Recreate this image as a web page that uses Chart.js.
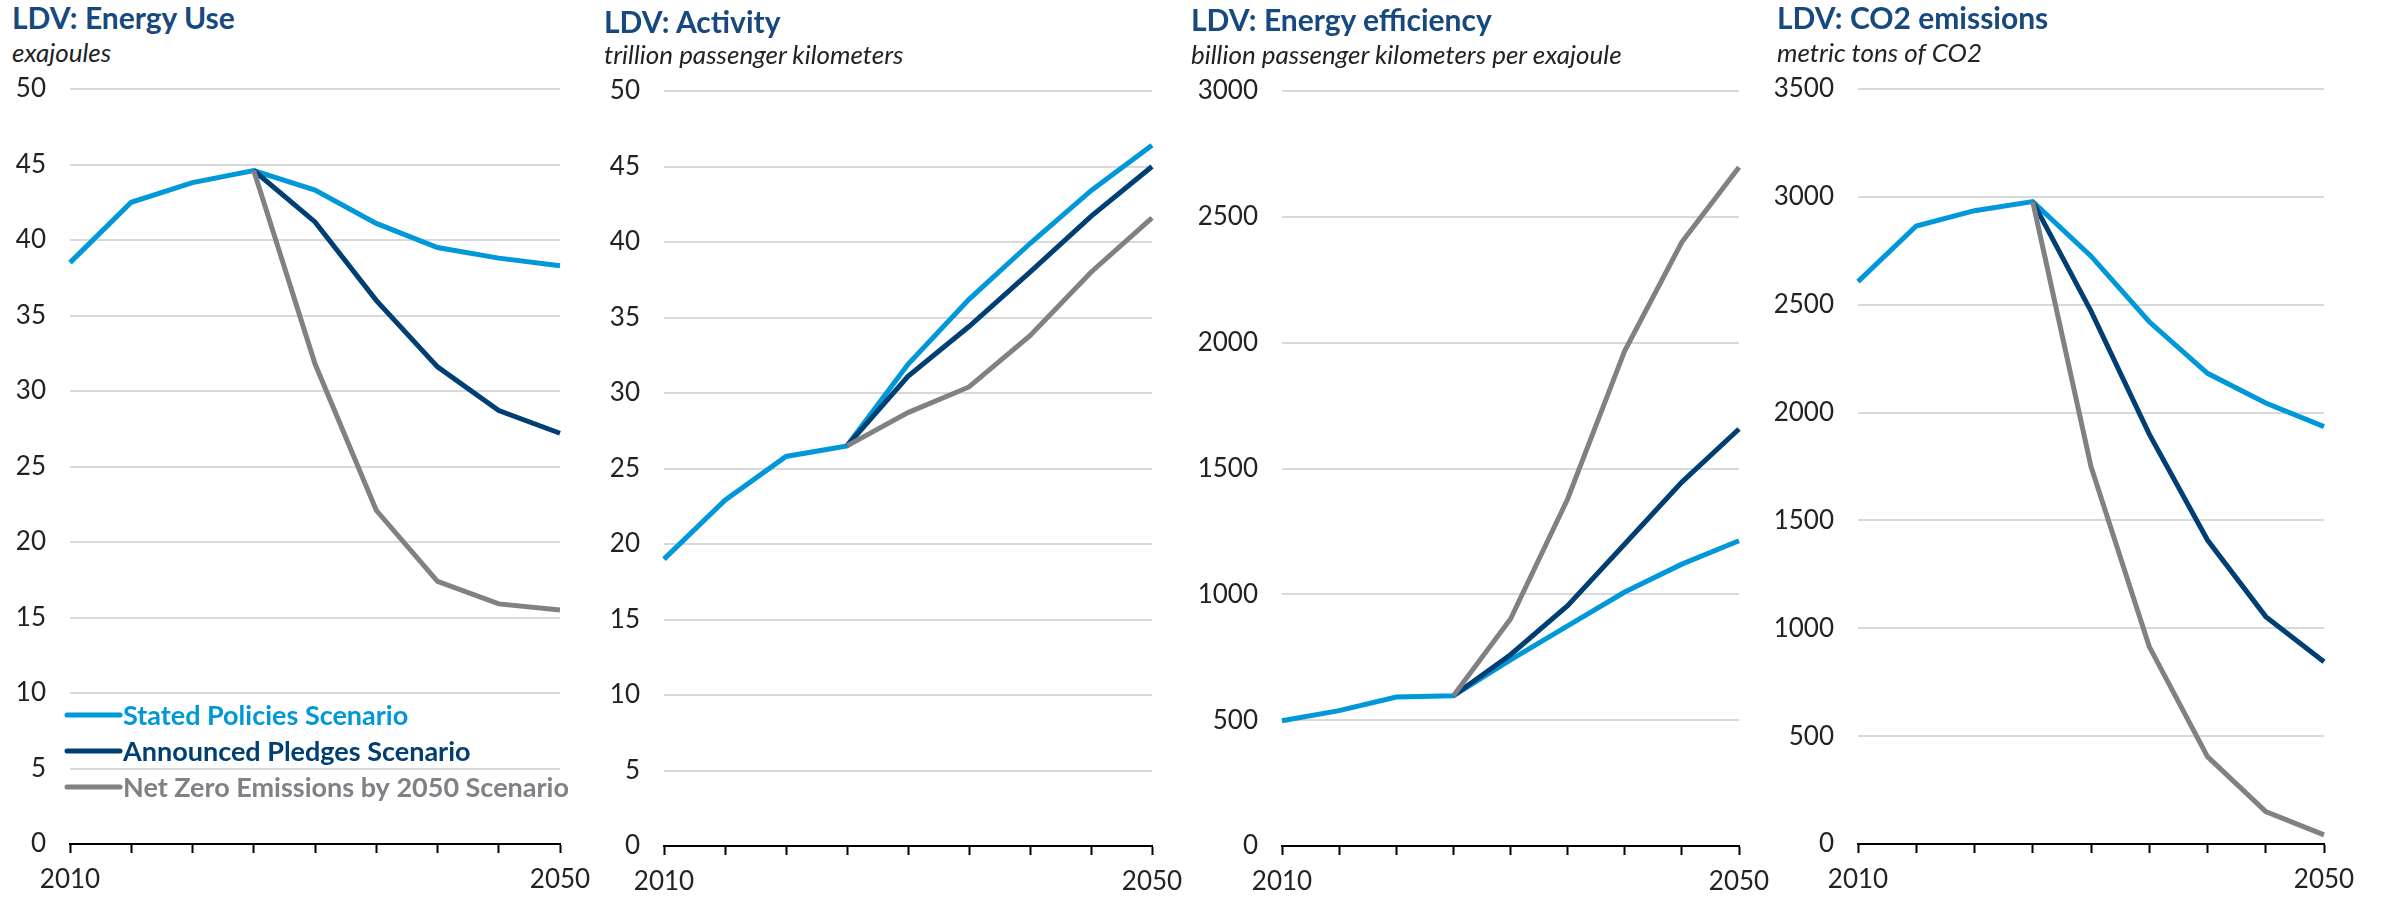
<!DOCTYPE html>
<html>
<head>
<meta charset="utf-8">
<script src="https://cdn.jsdelivr.net/npm/chart.js@4/dist/chart.umd.min.js"></script>
<style>
  body { margin: 0; background: #fff; width: 2386px; height: 899px; position: relative; overflow: hidden; font-family: Lato, "Open Sans", sans-serif; }
  canvas { position: absolute; top: 0; }
  .title { position: absolute; font-weight: 700; font-size: 30px; line-height: 30px; color: #17497e; white-space: nowrap; }
  .unit { position: absolute; font-style: italic; font-size: 26px; line-height: 26px; color: #222; white-space: nowrap; }
</style>
</head>
<body>
<div class="title" style="left:12px;top:2px">LDV: Energy Use</div>
<div class="unit" style="left:12px;top:39px">exajoules</div>
<canvas id="energy" width="630" height="899" style="left:0px"></canvas>

<div class="title" style="left:604px;top:6px">LDV: Activity</div>
<div class="unit" style="left:604px;top:41px">trillion passenger kilometers</div>
<canvas id="activity" width="630" height="899" style="left:590px"></canvas>

<div class="title" style="left:1191px;top:4px">LDV: Energy efficiency</div>
<div class="unit" style="left:1191px;top:41px">billion passenger kilometers per exajoule</div>
<canvas id="efficiency" width="630" height="899" style="left:1180px"></canvas>

<div class="title" style="left:1777px;top:2px">LDV: CO2 emissions</div>
<div class="unit" style="left:1777px;top:39px">metric tons of CO2</div>
<canvas id="co2" width="616" height="899" style="left:1770px"></canvas>

<script>
const years = [2010, 2015, 2020, 2025, 2030, 2035, 2040, 2045, 2050];
const scenarios = ['Stated Policies Scenario', 'Announced Pledges Scenario', 'Net Zero Emissions by 2050 Scenario'];

const energySteps = [38.5, 42.5, 43.8, 44.6, 43.3, 41.1, 39.5, 38.8, 38.3];
const energyAps   = [null, null, null, 44.6, 41.2, 36.0, 31.6, 28.7, 27.2];
const energyNze   = [null, null, null, 44.6, 31.8, 22.1, 17.4, 15.9, 15.5];

const activitySteps = [19.0, 22.9, 25.8, 26.5, 31.9, 36.2, 39.9, 43.4, 46.4];
const activityAps   = [null, null, null, 26.5, 31.1, 34.4, 38.0, 41.7, 45.0];
const activityNze   = [null, null, null, 26.5, 28.7, 30.4, 33.8, 38.0, 41.6];

const efficiencySteps = [498, 538, 592, 597, 740, 875, 1009, 1120, 1213];
const efficiencyAps   = [null, null, null, 597, 760, 955, 1200, 1446, 1657];
const efficiencyNze   = [null, null, null, 597, 902, 1379, 1968, 2400, 2697];

const co2Steps = [2607, 2865, 2936, 2978, 2725, 2421, 2182, 2044, 1935];
const co2Aps   = [null, null, null, 2978, 2470, 1900, 1409, 1054, 845];
const co2Nze   = [null, null, null, 2978, 1750, 915, 405, 150, 42];

const colors = ['#0098d8', '#003f74', '#7f8185'];
const fontFamily = 'Lato, "Open Sans", sans-serif';

// legend drawn inside the first panel, above the x axis
const insideLegend = {
  id: 'insideLegend',
  afterDraw(chart) {
    const ctx = chart.ctx;
    const area = chart.chartArea;
    const rows = [129, 93, 57];
    ctx.save();
    ctx.font = '700 27px ' + fontFamily;
    ctx.textBaseline = 'middle';
    chart.data.datasets.forEach((ds, i) => {
      const y = area.bottom - rows[i];
      ctx.strokeStyle = ds.borderColor;
      ctx.lineWidth = 5;
      ctx.lineCap = 'round';
      ctx.beginPath();
      ctx.moveTo(area.left - 3, y);
      ctx.lineTo(area.left + 50, y);
      ctx.stroke();
      ctx.fillStyle = ds.borderColor;
      ctx.fillText(ds.label, area.left + 53, y + 1);
    });
    ctx.restore();
  }
};

function createChart(id, series, max, step, box, withLegend) {
  const ctx = document.getElementById(id).getContext('2d');
  return new Chart(ctx, {
    type: 'line',
    data: {
      labels: years,
      datasets: series.map((list, i) => ({
        label: scenarios[i],
        data: list,
        borderColor: colors[i],
        backgroundColor: colors[i],
        borderWidth: 5,
        pointRadius: 0,
        tension: 0,
        order: 3 - i,
      }))
    },
    options: {
      responsive: false,
      animation: false,
      devicePixelRatio: 1,
      layout: { padding: { top: box.top, right: box.right, bottom: 0, left: 0 } },
      plugins: { legend: { display: false }, tooltip: { enabled: false } },
      scales: {
        x: {
          offset: false,
          afterFit: (scale) => { scale.height = 899 - box.bottom; },
          border: { display: true, color: '#000', width: 2 },
          grid: { drawOnChartArea: false, drawTicks: true, tickLength: 9, tickColor: '#000', tickWidth: 2 },
          ticks: {
            autoSkip: false,
            maxRotation: 0,
            padding: 11,
            color: '#222',
            font: { family: fontFamily, size: 26 },
            callback: (v, i) => (i == 0 || i == years.length - 1) ? years[i] : ''
          }
        },
        y: {
          min: 0,
          max: max,
          afterFit: (scale) => { scale.width = box.left; },
          border: { display: false },
          grid: { color: '#d9d9d9', lineWidth: 2, drawTicks: false },
          ticks: {
            stepSize: step,
            padding: 24,
            color: '#222',
            font: { family: fontFamily, size: 26 },
            callback: (v) => String(v)
          }
        }
      }
    },
    plugins: withLegend ? [insideLegend] : []
  });
}

createChart('energy', [energySteps, energyAps, energyNze], 50, 5, { left: 70, right: 70, top: 89, bottom: 844 }, true);
createChart('activity', [activitySteps, activityAps, activityNze], 50, 5, { left: 74, right: 68, top: 91, bottom: 846 });
createChart('efficiency', [efficiencySteps, efficiencyAps, efficiencyNze], 3000, 500, { left: 102, right: 71, top: 91, bottom: 846 });
createChart('co2', [co2Steps, co2Aps, co2Nze], 3500, 500, { left: 88, right: 62, top: 89, bottom: 844 });
</script>
</body>
</html>
